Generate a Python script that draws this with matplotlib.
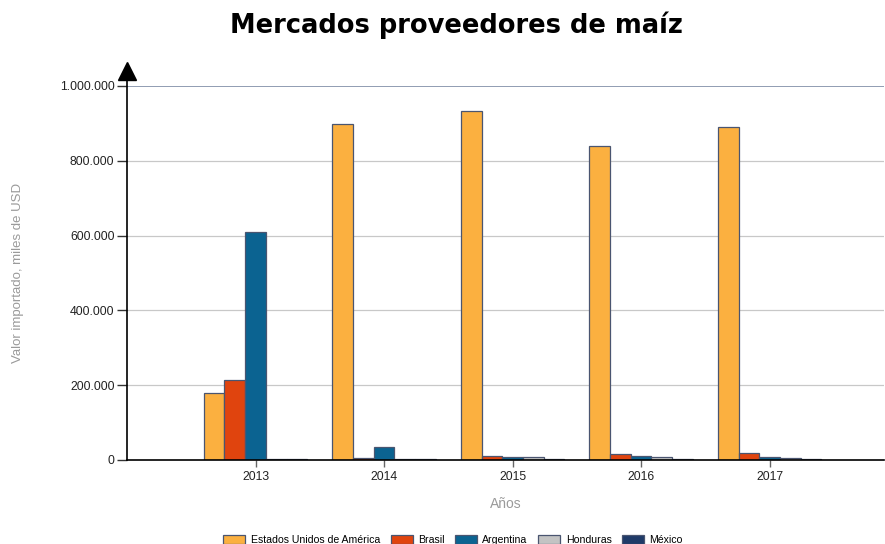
import matplotlib.pyplot as plt
import numpy as np
from matplotlib.ticker import FuncFormatter

plt.rcParams['font.family'] = ['Liberation Sans', 'DejaVu Sans']

# datos (miles de USD)
anios = ['2013', '2014', '2015', '2016', '2017']
paises = ['Estados Unidos de América', 'Brasil', 'Argentina', 'Honduras', 'México']
usa = [179000, 898000, 933000, 840000, 890000]
brasil = [214000, 5000, 11000, 16000, 19000]
argentina = [610000, 35000, 8000, 11000, 8000]
honduras = [2000, 1500, 8000, 8000, 5000]
mexico = [1500, 1500, 3000, 3000, 3000]
series = [usa, brasil, argentina, honduras, mexico]
colores = ['#FBB040', '#E0440E', '#0B6391', '#C3C3C3', '#1F3A68']

fig = plt.figure(figsize=(8.85, 5.44), dpi=100, facecolor='white')
ax = fig.add_axes([127 / 885, 84 / 544, 757 / 885, 374 / 544])

x = np.arange(1, len(anios) + 1)
w = 0.161
for i, (vals, c, nombre) in enumerate(zip(series, colores, paises)):
    ax.bar(x + (i - 2) * w, vals, w, color=c, edgecolor='#4A5570', lw=0.9,
           label=nombre, zorder=3)

ax.set_xlim(0, 5.89)
ax.set_ylim(0, 1000000)
ax.set_yticks(np.arange(0, 1000001, 200000))
ax.yaxis.set_major_formatter(FuncFormatter(lambda v, p: f'{int(v):,}'.replace(',', '.')))
ax.set_xticks(x)
ax.set_xticklabels(anios)

# rejilla
for v in range(200000, 1000000, 200000):
    ax.axhline(v, color='#C8C8C8', lw=0.9, zorder=1)
ax.axhline(1000000, color='#7E8CA6', lw=1.2, zorder=1)

for s in ['top', 'right', 'left']:
    ax.spines[s].set_visible(False)
ax.spines['bottom'].set_color('black')
ax.spines['bottom'].set_linewidth(1.2)
ax.spines['bottom'].set_zorder(4)

# eje y con flecha
ax.plot([0, 0], [0, 1.03], transform=ax.transAxes, color='black', lw=1.2, clip_on=False, zorder=5)
ax.plot([0], [1.04], transform=ax.transAxes, marker='^', markersize=13, color='black',
        clip_on=False, zorder=5)

ax.tick_params(axis='y', length=7, width=1, color='#333333', labelsize=8.8, labelcolor='#222222', pad=2)
ax.tick_params(axis='x', length=5, width=1, color='#666666', labelsize=8.8, labelcolor='#222222', pad=3)

fig.text(18 / 885, 1 - 273 / 544, 'Valor importado, miles de USD', color='#9A9A9A',
         fontsize=9.5, rotation=90, ha='center', va='center')
ax.set_xlabel('Años', color='#9A9A9A', fontsize=10, labelpad=10)

fig.text(0.516, 0.953, 'Mercados proveedores de maíz', ha='center', va='center',
         fontsize=18.5, fontweight='bold', family='DejaVu Sans')

fig.legend(loc='center', bbox_to_anchor=(0.512, 0.007), ncol=5, frameon=False,
           fontsize=7.6, handlelength=2.1, handleheight=0.8, columnspacing=1.0,
           handletextpad=0.5)

fig.savefig('out.png', dpi=100)
